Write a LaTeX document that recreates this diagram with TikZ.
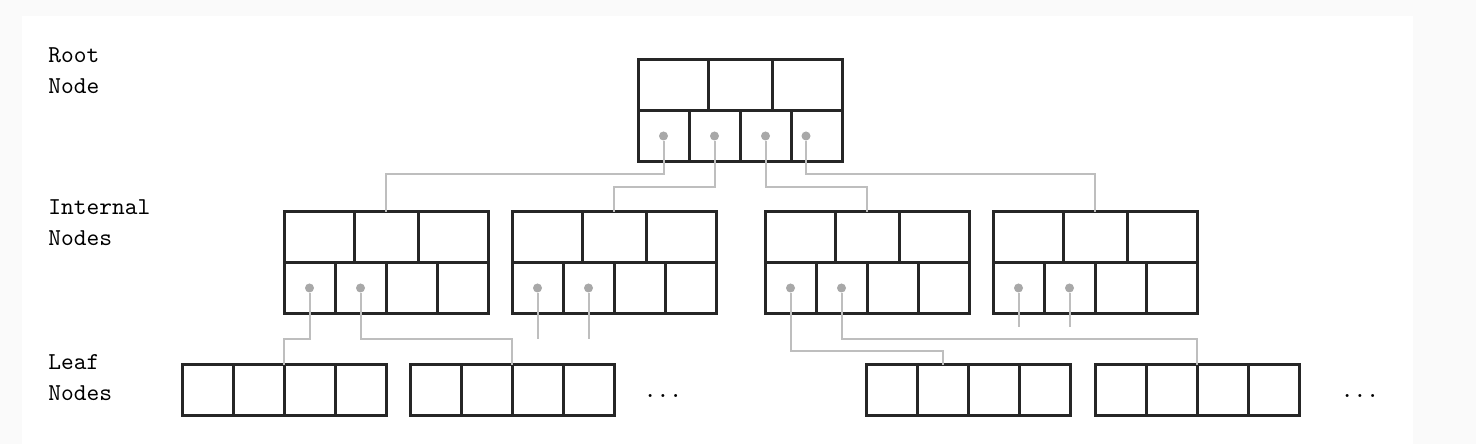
\documentclass[tikz,border=0pt]{standalone}
\usepackage{tikz}

\definecolor{margingray}{RGB}{250,250,250}
\definecolor{linkgray}{RGB}{190,190,190}
\definecolor{dotgray}{RGB}{168,168,168}

\tikzset{
  cell/.style={line width=1.2pt, draw=black!85},
  link/.style={line width=0.8pt, draw=linkgray},
  dot/.style={circle, fill=dotgray, inner sep=0pt, minimum size=3.6pt},
  tag/.style={font=\ttfamily\fontsize{9.7}{12.4}\selectfont, align=left, inner sep=0pt}
}

% key box: 3 keys on top, 4 pointers below; #1 name, #2 left x, #3 top y
\newcommand{\keybox}[3]{%
  \draw[cell] (#2,#3) rectangle ++(204,102);
  \draw[cell] (#2,#3+51) -- ++(204,0);
  \draw[cell] (#2+70,#3) -- ++(0,51) (#2+134,#3) -- ++(0,51);
  \foreach \c in {51,102,153} \draw[cell] (#2+\c,#3+51) -- ++(0,51);
  \coordinate (#1) at (#2+102,#3);
  \node[dot] (#1-1) at (#2+25.5,#3+76) {};
  \node[dot] (#1-2) at (#2+76.5,#3+76) {};
}

% leaf box: 4 cells in one row; #1 name, #2 left x, #3 top y
\newcommand{\leafbox}[3]{%
  \draw[cell] (#2,#3) rectangle ++(204,51);
  \foreach \c in {51,102,153} \draw[cell] (#2+\c,#3) -- ++(0,51);
  \coordinate (#1) at (#2+102,#3);
  \coordinate (#1-2) at (#2+76.5,#3);
}

\begin{document}
\begin{tikzpicture}[x=0.4pt, y=-0.4pt]
    % Background with margin
    \fill[margingray] (0,0) rectangle (1476,444);
    \fill[white] (22,16) rectangle (1413,444);

    % Level labels (base is the last line)
    \node[tag, anchor=base west] (rootlbl) at (48,94) {Root\\Node};
    \node[tag, anchor=base west] (intlbl) at (48,246) {Internal\\Nodes};
    \node[tag, anchor=base west] (leaflbl) at (48,401) {Leaf\\Nodes};

    % Root node
    \keybox{r}{638}{60}
    \node[dot] (r-3) at (765.5,136) {};
    \node[dot] (r-4) at (806,136) {};

    % Internal nodes
    \keybox{i1}{284}{212}
    \keybox{i2}{512}{212}
    \keybox{i3}{765}{212}
    \keybox{i4}{993}{212}

    % Leaf nodes
    \leafbox{l1}{182}{365}
    \leafbox{l2}{410}{365}
    \leafbox{l3}{866}{365}
    \leafbox{l4}{1095}{365}
    \node[tag] (more1) at (663,396) {...};
    \node[tag] (more2) at (1360,396) {...};

    % Root pointers
    \draw[link] (r-1) -- ++(0,38) -| (i1);
    \draw[link] (r-2) -- ++(0,51) -| (i2);
    \draw[link] (r-3) -- ++(0,51) -| (i3);
    \draw[link] (r-4) -- ++(0,38) -| (i4);

    % Internal pointers
    \draw[link] (i1-1) -- ++(0,51) -| (l1);
    \draw[link] (i1-2) -- ++(0,51) -| (l2);
    \draw[link] (i2-1) -- ++(0,51);
    \draw[link] (i2-2) -- ++(0,51);
    \draw[link] (i3-1) -- ++(0,63) -| (l3-2);
    \draw[link] (i3-2) -- ++(0,51) -| (l4);
    \draw[link] (i4-1) -- ++(0,39);
    \draw[link] (i4-2) -- ++(0,39);
\end{tikzpicture}
\end{document}
